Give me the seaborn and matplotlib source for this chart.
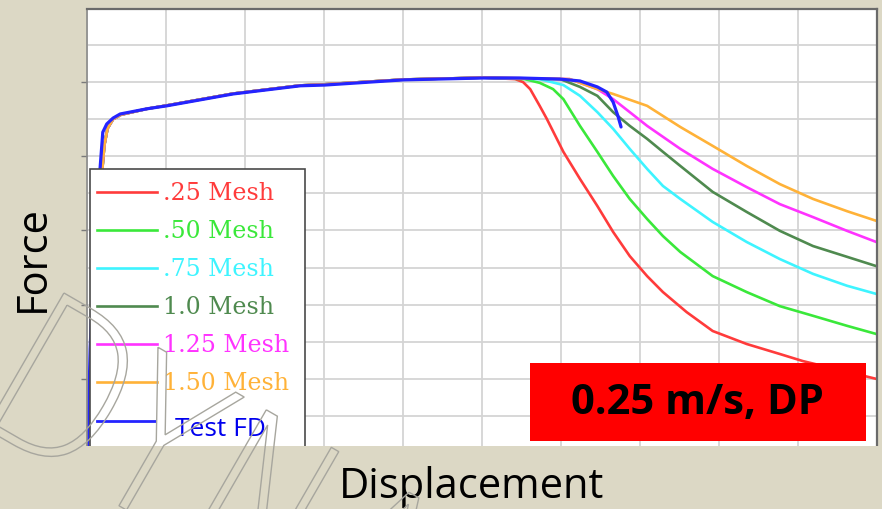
import matplotlib
matplotlib.use("Agg")
import numpy as np
import pandas as pd
import seaborn as sns
import matplotlib.pyplot as plt
import matplotlib.transforms as mtransforms
from matplotlib.patches import Rectangle, PathPatch
from matplotlib.lines import Line2D
from matplotlib.textpath import TextPath
from matplotlib.font_manager import FontProperties

# ---------------- data ----------------
series_names = [".25 Mesh", ".50 Mesh", ".75 Mesh", "1.0 Mesh", "1.25 Mesh", "1.50 Mesh", "Test FD"]
series_colors = ["#ff3b3b", "#3ae83a", "#3ef4ff", "#4f8a4f", "#ff33ff", "#ffb238", "#2424ff"]

# shared elastic rise + hardening plateau of the simulations
rise_x = [0.06, 0.12, 0.18, 0.22, 0.26, 0.33, 0.43, 0.76, 1.01, 1.43, 1.85, 2.70, 3.01, 4.01, 5.01]
rise_y = [0.20, 4.50, 7.30, 8.30, 8.75, 9.00, 9.12, 9.28, 9.37, 9.53, 9.69, 9.91, 9.94, 10.07, 10.12]

tail_025_x = [5.42, 5.52, 5.61, 5.73, 5.82, 6.03, 6.24, 6.46, 6.66, 6.87, 7.09, 7.29, 7.59, 7.92, 8.35, 8.77, 9.06, 9.99]
tail_025_y = [10.08, 10.00, 9.81, 9.36, 9.01, 8.12, 7.39, 6.66, 5.96, 5.31, 4.77, 4.34, 3.80, 3.29, 2.94, 2.67, 2.48, 2.00]

tail_050_x = [5.54, 5.73, 5.90, 6.03, 6.24, 6.46, 6.66, 6.87, 7.09, 7.29, 7.51, 7.92, 8.35, 8.77, 9.19, 9.62, 9.99]
tail_050_y = [10.08, 9.98, 9.81, 9.54, 8.82, 8.12, 7.47, 6.85, 6.31, 5.85, 5.42, 4.77, 4.34, 3.96, 3.70, 3.43, 3.21]

tail_075_x = [5.73, 6.03, 6.24, 6.46, 6.66, 6.87, 7.09, 7.29, 7.51, 7.92, 8.35, 8.77, 9.19, 9.62, 9.99]
tail_075_y = [10.08, 9.92, 9.63, 9.19, 8.74, 8.20, 7.66, 7.20, 6.85, 6.23, 5.69, 5.23, 4.83, 4.51, 4.29]

tail_100_x = [5.99, 6.24, 6.46, 6.66, 6.87, 7.09, 7.29, 7.51, 7.92, 8.35, 8.77, 9.19, 9.62, 9.99]
tail_100_y = [10.08, 9.87, 9.63, 9.19, 8.82, 8.47, 8.12, 7.74, 7.04, 6.50, 5.99, 5.58, 5.29, 5.04]

tail_125_x = [6.11, 6.46, 6.66, 6.87, 7.09, 7.51, 7.92, 8.35, 8.77, 9.19, 9.62, 9.99]
tail_125_y = [10.08, 9.81, 9.54, 9.19, 8.82, 8.20, 7.66, 7.17, 6.71, 6.36, 5.99, 5.69]

tail_150_x = [6.11, 6.46, 6.66, 7.09, 7.51, 7.92, 8.35, 8.77, 9.19, 9.62, 9.99]
tail_150_y = [10.08, 9.81, 9.68, 9.36, 8.79, 8.28, 7.74, 7.25, 6.85, 6.52, 6.26]

test_x = [0.01, 0.04, 0.10, 0.165, 0.20, 0.25, 0.33, 0.42, 0.76, 1.01, 1.43, 1.85, 2.70, 3.01, 4.01,
          5.01, 5.48, 5.99, 6.24, 6.46, 6.58, 6.66, 6.72, 6.76]
test_y = [0.20, 2.81, 6.04, 7.66, 8.65, 8.87, 9.03, 9.14, 9.28, 9.36, 9.52, 9.68, 9.90, 9.92, 10.06,
          10.11, 10.11, 10.08, 10.03, 9.87, 9.73, 9.46, 9.09, 8.79]

tails = [(tail_025_x, tail_025_y), (tail_050_x, tail_050_y), (tail_075_x, tail_075_y),
         (tail_100_x, tail_100_y), (tail_125_x, tail_125_y), (tail_150_x, tail_150_y)]

rows = []
for name, (tx, ty) in zip(series_names[:6], tails):
    for xv, yv in zip(rise_x + tx, rise_y + ty):
        rows.append((name, xv, yv))
sim_df = pd.DataFrame(rows, columns=["series", "disp", "force"])
test_df = pd.DataFrame({"series": "Test FD", "disp": test_x, "force": test_y})

box_label = "0.25 m/s, DP"
x_label = "Displacement"
y_label = "Force"
watermark = "DYNA"

# ---------------- figure ----------------
W, H = 882, 510
BG = "#dcd8c5"
fig = plt.figure(figsize=(W / 100, H / 100), dpi=100, facecolor=BG)
ax = fig.add_axes([87 / W, 1 - 447 / H, (877 - 87) / W, (447 - 10) / H])
ax.set_facecolor("white")

palette = dict(zip(series_names, series_colors))
sns.lineplot(data=sim_df, x="disp", y="force", hue="series", palette=palette,
             hue_order=series_names[:6], sort=False, estimator=None, legend=False,
             linewidth=1.9, ax=ax)
sns.lineplot(data=test_df, x="disp", y="force", hue="series", palette=palette,
             sort=False, estimator=None, legend=False, linewidth=2.3, ax=ax)
for ln in ax.get_lines():
    ln.set_solid_joinstyle("round")
    ln.set_solid_capstyle("round")

ax.set_xlim(0, 10)
ax.set_ylim(0.19, 11.97)
ax.set_xticks(np.arange(0, 11, 1))
ax.set_yticks(np.arange(2, 12, 2))
ax.set_yticks(np.arange(1, 12, 2), minor=True)
ax.grid(True, which="both", color="#d4d4d4", linewidth=1.3)
ax.set_axisbelow(True)
ax.tick_params(axis="x", length=0, labelbottom=False)
ax.tick_params(axis="y", which="major", length=4, width=1, color="#7a7a7a",
               direction="out", labelleft=False)
ax.tick_params(axis="y", which="minor", length=0)
ax.set_xlabel("")
ax.set_ylabel("")
for s in ["top", "right"]:
    ax.spines[s].set_color("#6a6a6a")
    ax.spines[s].set_linewidth(1.6)
ax.spines["left"].set_color("#8a8a8a")
ax.spines["left"].set_linewidth(1.2)
ax.spines["bottom"].set_visible(False)

# pixel transform (y from top)
T = mtransforms.Affine2D().scale(1 / W, -1 / H).translate(0, 1) + fig.transFigure

# legend (drawn as overlay)
fig.add_artist(Rectangle((90, 170), 215, 295, transform=T, facecolor="white",
                         edgecolor="#4a4a4a", linewidth=1.2, zorder=3))
entry_y = [193, 231, 269, 307, 345, 383]
for name, col, yy in zip(series_names[:6], series_colors[:6], entry_y):
    fig.add_artist(Line2D([97, 157], [yy, yy], transform=T, color=col, linewidth=1.9, zorder=3.1))
    fig.text(163, yy + 1, name, transform=T, color=col, fontsize=17, family="DejaVu Serif",
             ha="left", va="center", zorder=3.2)
fig.add_artist(Line2D([97, 155], [422, 422], transform=T, color=series_colors[6], linewidth=2.0, zorder=3.1))
fig.text(175, 430, series_names[6], transform=T, color="#0000ee", fontsize=19, family="Open Sans",
         ha="left", va="center", zorder=3.2)

# red label box
fig.add_artist(Rectangle((530, 364), 336, 78, transform=T, facecolor="#ff0000",
                         edgecolor="none", zorder=3.5))
fig.text(697, 404, box_label, transform=T, color="black", fontsize=30, family="Open Sans",
         fontweight="bold", ha="center", va="center", zorder=3.6)

# bottom band covering the cut-off part
fig.add_artist(Rectangle((0, 447), W, H - 447, transform=T, facecolor=BG,
                         edgecolor="none", zorder=4))

fig.text(472, 487, x_label, transform=T, color="black", fontsize=30, family="Open Sans",
         ha="center", va="center", zorder=5)
fig.text(33, 259, y_label, transform=T, color="black", fontsize=30, family="Open Sans",
         ha="center", va="center", rotation=90, zorder=5)

# watermark outline text
tp = TextPath((0, 0), watermark, size=215, prop=FontProperties(family="DejaVu Sans", weight="light"))
wm_tr = mtransforms.Affine2D().scale(0.82, 1.0).rotate_deg(-30).translate(-33, H - 419)
fig.add_artist(PathPatch(tp, transform=wm_tr, facecolor="none", edgecolor="#a7a69e",
                         linewidth=1.0, zorder=6))

fig.savefig("out.png", dpi=100, facecolor=BG)
